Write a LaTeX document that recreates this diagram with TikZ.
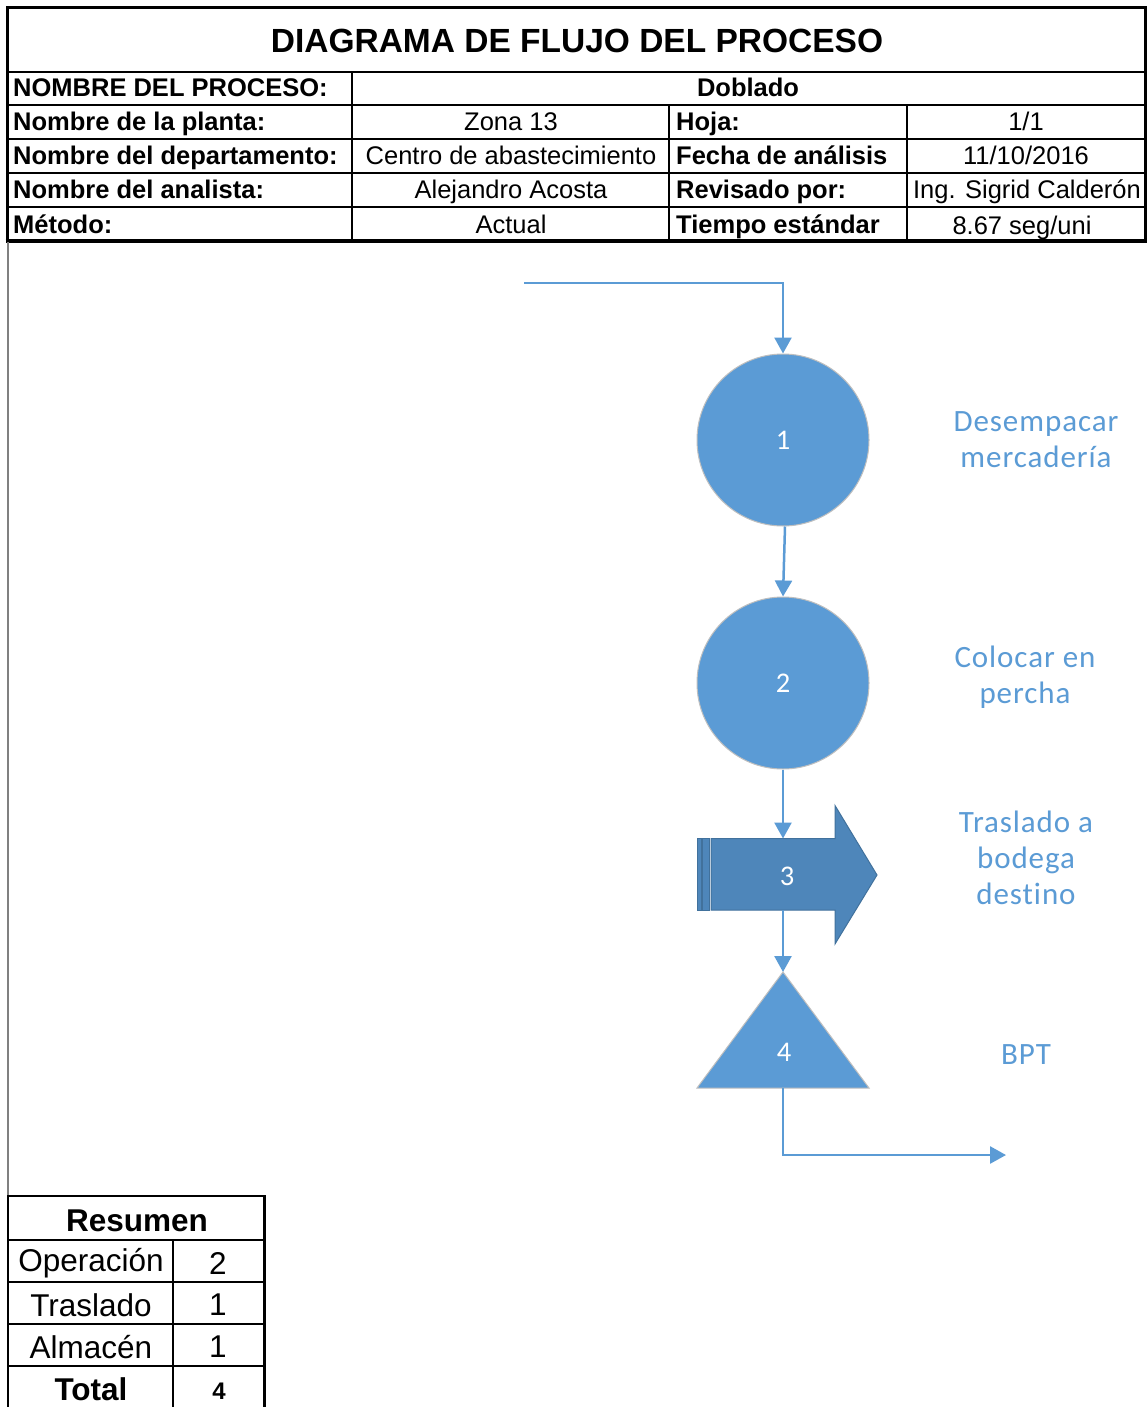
\documentclass[tikz,border=0pt]{standalone}
\usepackage{fontspec}
\setmainfont{Liberation Sans}
\newfontfamily\calfont[LetterSpace=3,Ligatures=NoCommon]{Carlito}
\newfontfamily\numfont{Carlito}
\usetikzlibrary{arrows.meta}
\definecolor{flowblue}{HTML}{5B9BD5}
\definecolor{arrowfill}{HTML}{4E86BA}
\definecolor{arrowedge}{HTML}{41719C}
\definecolor{shapeedge}{HTML}{BFBFBF}
\definecolor{sideline}{HTML}{808080}
\begin{document}
\begin{tikzpicture}[x=1pt,y=-1pt,
  tline/.style={line width=1.4pt},
  tborder/.style={line width=3pt},
  cellfont/.style={font=\fontsize{25.5}{28}\selectfont, inner sep=0, text height=18pt, text depth=5pt},
  hdr/.style={cellfont, font=\fontsize{25.5}{28}\selectfont\bfseries, anchor=west},
  val/.style={cellfont},
  sumfont/.style={font=\fontsize{31.5}{34}\selectfont, inner sep=0},
  lbl/.style={font=\calfont\fontsize{31}{36}\selectfont, text=flowblue, align=center, inner sep=0},
  num/.style={font=\numfont\fontsize{28.5}{32}\selectfont, text=white},
  opshape/.style={circle, fill=flowblue, draw=shapeedge, line width=1pt, minimum size=172pt, inner sep=0, num},
  conn/.style={draw=flowblue, line width=2.5pt, -{Triangle[width=17pt,length=16pt]}},
]
\useasboundingbox (0,0) rectangle (1147,1407);
\fill[white] (0,0) rectangle (1147,1407);

% ---------- header table ----------
\draw[tline] (352,72) -- (352,241);
\draw[tline] (669,105) -- (669,241);
\draw[tline] (907,105) -- (907,241);
\draw[line width=2pt] (7,72) -- (1145,72);
\foreach \yy in {105,139,173,207} \draw[tline] (7,\yy) -- (1145,\yy);
\draw[tborder] (7,8) -- (1145,8);
\draw[tborder] (7,6.5) -- (7,243);
\draw[tborder] (1145,6.5) -- (1145,243);
\draw[line width=3.5pt] (5.5,241) -- (1146.5,241);
\draw[sideline, line width=1.2pt] (8,242) -- (8,1196);

\node[font=\fontsize{33.5}{36}\selectfont\bfseries, inner sep=0] (title) at (577,41) {DIAGRAMA DE FLUJO DEL PROCESO};

\node[hdr] (h1) at (13,90.5) {NOMBRE DEL PROCESO:};
\node[val, font=\fontsize{25.5}{28}\selectfont\bfseries] (v1) at (748,90.5) {Doblado};

\node[hdr] (h2) at (13,124.5) {Nombre de la planta:};
\node[val] (v2) at (511,124.5) {Zona 13};
\node[hdr] (h2b) at (676,124.5) {Hoja:};
\node[val] (v2b) at (1026,124.5) {1/1};

\node[hdr] (h3) at (13,158.5) {Nombre del departamento:};
\node[val] (v3) at (511,158.5) {Centro de abastecimiento};
\node[hdr] (h3b) at (676,158.5) {Fecha de análisis};
\node[val] (v3b) at (1026,158.5) {11/10/2016};

\node[hdr] (h4) at (13,192.5) {Nombre del analista:};
\node[val] (v4) at (511,192.5) {Alejandro Acosta};
\node[hdr] (h4b) at (676,192.5) {Revisado por:};
\node[val] (v4b) at (1027,192.5) {Ing. Sigrid Calderón};

\node[hdr] (h5) at (13,226.5) {Método:};
\node[val] (v5) at (511,226.5) {Actual};
\node[hdr] (h5b) at (676,226.5) {Tiempo estándar};
\node[val] (v5b) at (1022,227.5) {8.67 seg/uni};

% ---------- flow shapes ----------
\node[opshape] (c1) at (783,440) {1};
\node[opshape] (c2) at (783,683) {2};

% transport arrow (3)
\path[fill=arrowfill, draw=arrowedge, line width=1pt]
  (711,838.5) -- (835,838.5) -- (835,805.5) -- (877,875) -- (835,944) -- (835,910) -- (711,910) -- cycle;
\path[fill=arrowfill, draw=arrowedge, line width=0.6pt] (702.5,838.5) rectangle (709.5,910);
\path[fill=arrowfill, draw=arrowedge, line width=0.6pt] (696.8,838.5) rectangle (701,910);
\node[num] (n3) at (787,876) {3};
\coordinate (a3top) at (783,838.5);
\coordinate (a3bot) at (783,910);

% storage triangle (4)
\path[fill=flowblue, draw=shapeedge, line width=1pt] (783,972) -- (869,1088) -- (697,1088) -- cycle;
\node[num] (n4) at (784,1052) {4};
\coordinate (t4top) at (783,972);
\coordinate (t4bot) at (783,1088);

% ---------- connectors ----------
\coordinate (start) at (524,283);
\coordinate (finish) at (1006,1155);
\draw[conn] (start) -| (c1.north);
\draw[conn] ([xshift=2pt]c1.south) -- (c2.north);
\draw[conn] (c2.south) -- (a3top);
\draw[conn] (a3bot) -- (t4top);
\draw[conn] (t4bot) |- (finish);

% ---------- labels ----------
\node[lbl] (l1) at (1036,440) {Desempacar\\mercadería};
\node[lbl] (l2) at (1025,677) {Colocar en\\percha};
\node[lbl] (l3) at (1026,858) {Traslado a\\bodega\\destino};
\node[lbl] (l4) at (1026,1055) {BPT};

% ---------- summary table ----------
\draw[tline] (7,1196) -- (265,1196);
\foreach \yy in {1240,1282,1324,1366} \draw[tline] (7,\yy) -- (265,\yy);
\draw[tline] (173,1240) -- (173,1407);
\draw[tline] (8,1196) -- (8,1407);
\draw[tborder] (264,1195) -- (264,1407);

\node[sumfont, font=\fontsize{31.5}{34}\selectfont\bfseries] (s0) at (137,1221) {Resumen};
\node[sumfont] (s1) at (91,1263) {Operación};
\node[sumfont] (s1v) at (218,1263) {2};
\node[sumfont] (s2) at (91,1305) {Traslado};
\node[sumfont] (s2v) at (218,1305) {1};
\node[sumfont] (s3) at (91,1347) {Almacén};
\node[sumfont] (s3v) at (218,1347) {1};
\node[sumfont, font=\fontsize{31.5}{34}\selectfont\bfseries] (s4) at (91,1389) {Total};
\node[inner sep=0, font=\fontsize{24}{26}\selectfont\bfseries] (s4v) at (219,1391) {4};
\end{tikzpicture}
\end{document}
